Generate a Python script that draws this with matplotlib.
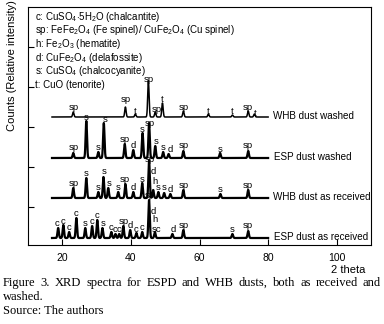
import numpy as np
import matplotlib.pyplot as plt

plt.rcParams['font.family'] = ['Liberation Sans', 'DejaVu Sans']
plt.rcParams['mathtext.fontset'] = 'custom'
plt.rcParams['mathtext.rm'] = 'Liberation Sans'
plt.rcParams['mathtext.it'] = 'Liberation Sans:italic'

# peak positions (2 theta) and heights for each spectrum
whb_washed_pos = [23.2, 38.4, 41.3, 45.1, 47.1, 49.2, 55.3, 62.6, 69.6, 74.2, 76.0]
whb_washed_hgt = [5, 10, 3, 36, 5, 14, 6, 3, 2, 6, 3]
whb_washed_tags = [(23.2, 10, 'sp'), (38.4, 17, 'sp'), (41.3, 5, 't'), (45.1, 37, 'sp'),
                   (47.4, 7, 'sp'), (49.2, 18, 't'), (55.3, 10, 'sp'), (62.6, 6, 't'),
                   (69.6, 6, 't'), (74.0, 9, 'sp'), (76.2, 4, 't')]

esp_washed_pos = [23.2, 27.0, 30.5, 32.1, 38.2, 40.7, 43.4, 45.3, 47.1, 49.4, 51.0, 55.3, 66.0, 74.2]
esp_washed_hgt = [5, 37, 6, 35, 14, 8, 25, 35, 12, 6, 4, 7, 5, 7]
esp_washed_tags = [(23.2, 10, 'sp'), (27.0, 40, 's'), (30.5, 10, 's'), (32.4, 38, 's'),
                   (38.2, 18, 'sp'), (40.7, 12, 'd'), (43.4, 29, 's'), (45.6, 35, 'sp'),
                   (47.3, 17, 's'), (49.4, 10, 's'), (51.5, 8, 'd'), (55.3, 12, 'sp'),
                   (66.0, 9, 's'), (74.2, 12, 'sp')]

whb_recv_pos = [23.2, 27.0, 30.5, 32.0, 33.4, 36.3, 38.4, 40.7, 43.3, 45.3, 46.5, 48.0, 49.7, 51.5, 55.3, 66.1, 74.2]
whb_recv_hgt = [10, 20, 6, 21, 10, 6, 14, 6, 15, 38, 8, 6, 5, 4, 8, 4, 8]
whb_recv_tags = [(23.2, 15, 'sp'), (27.0, 25, 's'), (30.5, 10, 's'), (32.2, 26, 's'),
                 (33.6, 15, 's'), (36.3, 10, 's'), (38.2, 18, 'sp'), (40.7, 11, 'd'),
                 (43.3, 19, 's'), (45.4, 39, 'sp'), (46.6, 26, 'd'), (46.9, 17, 'h'),
                 (48.0, 11, 's'), (49.7, 10, 's'), (51.5, 9, 'd'), (55.3, 13, 'sp'),
                 (66.1, 8, 's'), (74.2, 13, 'sp')]

esp_recv_pos = [18.8, 20.3, 22.0, 24.1, 26.7, 28.7, 30.2, 31.7, 34.3, 35.5, 36.6, 37.8, 39.8,
                41.6, 43.3, 45.3, 47.0, 52.1, 55.3, 69.6, 74.2]
esp_recv_hgt = [10, 13, 6, 20, 10, 12, 18, 10, 6, 4, 4, 12, 8, 5, 6, 38, 6, 4, 8, 4, 7]
esp_recv_tags = [(18.6, 14, 'c'), (20.3, 17, 'c'), (22.0, 10, 'c'), (24.1, 24, 'c'),
                 (26.7, 14, 's'), (28.7, 16, 'c'), (30.2, 22, 'c'), (31.9, 14, 's'),
                 (34.3, 11, 'c'), (35.4, 8, 'c'), (36.6, 8, 'c'), (37.9, 16, 'sp'),
                 (39.8, 12, 'd'), (41.6, 9, 'c'), (43.3, 10, 'c'), (45.4, 42, 'sp'),
                 (46.5, 27, 'd'), (46.9, 18, 'h'), (47.6, 9, 'sc'), (52.3, 8, 'd'),
                 (55.3, 12, 'sp'), (69.6, 8, 's'), (74.2, 12, 'sp')]

names = ['ESP dust as received', 'WHB dust as received', 'ESP dust washed', 'WHB dust washed']
baselines = [7, 47, 87, 128]

legend_lines = [r'c: CuSO$_4$$\cdot$5H$_2$O (chalcantite)',
                r'sp: FeFe$_2$O$_4$ (Fe spinel)/ CuFe$_2$O$_4$ (Cu spinel)',
                r'h: Fe$_2$O$_3$ (hematite)',
                r'd: CuFe$_2$O$_4$ (delafossite)',
                r's: CuSO$_4$ (chalcocyanite)',
                r't: CuO (tenorite)']

caption_lines = ['Figure 3. XRD spectra for ESPD and WHB dusts, both as received and',
                 'washed.',
                 'Source: The authors']


def spectrum(x, pos, hgt, width=0.2):
    y = np.zeros_like(x)
    for p, h in zip(pos, hgt):
        y += h * np.exp(-0.5 * ((x - p) / width) ** 2)
    return y


fig = plt.figure(figsize=(3.84, 3.24), dpi=100)
ax = fig.add_axes([28 / 384, 79 / 324, 343 / 384, 238 / 324])

x = np.arange(17, 80.01, 0.02)
series = [(esp_recv_pos, esp_recv_hgt, esp_recv_tags),
          (whb_recv_pos, whb_recv_hgt, whb_recv_tags),
          (esp_washed_pos, esp_washed_hgt, esp_washed_tags),
          (whb_washed_pos, whb_washed_hgt, whb_washed_tags)]

for i, (pos, hgt, tags) in enumerate(series):
    base = baselines[i]
    lw = 1.1 if i == 3 else 1.6
    ax.plot(x, base + spectrum(x, pos, hgt), color='black', lw=lw)
    for tx, lev, t in tags:
        ax.text(tx, base + lev, t, fontsize=6.8, ha='center', va='center')
    xn = 81.3 if 'WHB' in names[i] else 81.8
    ax.text(xn, base + 1, names[i], fontsize=7.1, ha='left', va='center')

for k, line in enumerate(legend_lines):
    ax.text(12.0, 228.5 - k * 13.7, line, fontsize=7, ha='left', va='center')

ax.set_xlim(10, 110)
ax.set_ylim(0, 238)
ax.set_xticks([20, 40, 60, 80, 100])
ax.set_yticks([38, 78, 118, 158, 198])
ax.set_yticklabels([])
ax.tick_params(direction='in', length=4, labelsize=7.5, pad=6)

fig.text(12 / 384, 1 - 66 / 324, 'Counts (Relative intensity)', rotation=90,
         fontsize=8, ha='center', va='center')
fig.text(365 / 384, 1 - 270 / 324, '2 theta', fontsize=8, ha='right', va='center')

# caption, first line justified to the full width
cap = dict(family='Liberation Serif', fontsize=9, va='center')
renderer = fig.canvas.get_renderer()
words = caption_lines[0].split(' ')
texts = [fig.text(0, 1 - 283 / 324, w, ha='left', **cap) for w in words]
widths = [t.get_window_extent(renderer).width for t in texts]
left, right = 3, 381
gap = (right - left - sum(widths)) / (len(words) - 1)
xp = left
for t, w in zip(texts, widths):
    t.set_x(xp / 384)
    xp += w + gap
fig.text(3 / 384, 1 - 297 / 324, caption_lines[1], ha='left', **cap)
fig.text(3 / 384, 1 - 311 / 324, caption_lines[2], ha='left', **cap)

fig.savefig('out.png', dpi=100)
